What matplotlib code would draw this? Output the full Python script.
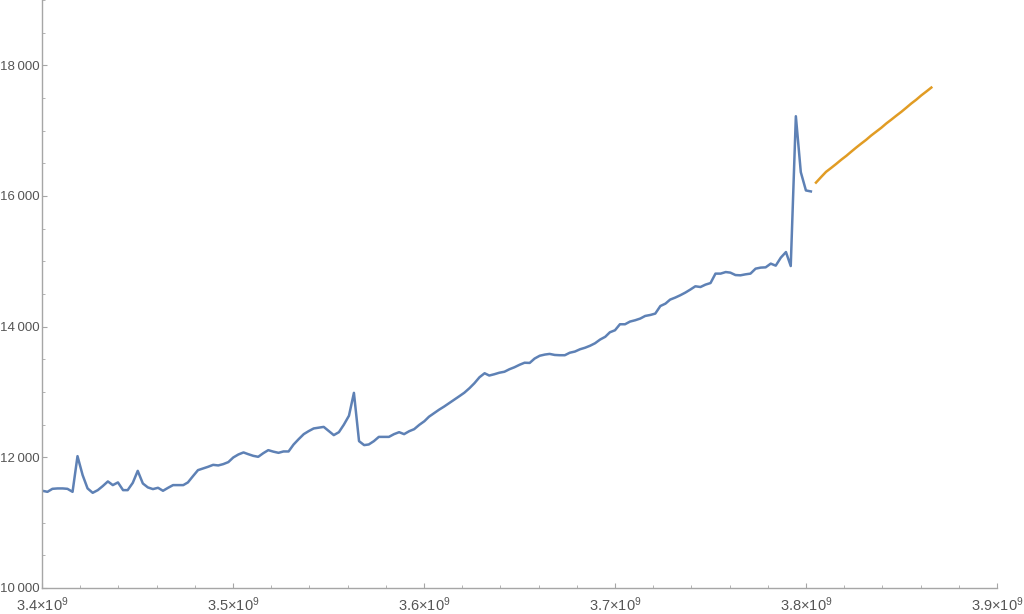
import numpy as np
import pandas as pd
import matplotlib
matplotlib.use('Agg')
import matplotlib.pyplot as plt
from matplotlib.ticker import MultipleLocator, FixedLocator

plt.rcParams['font.family'] = ['Liberation Sans', 'DejaVu Sans']
plt.rcParams['mathtext.default'] = 'regular'

# monthly values, Oct 2007 .. Jul 2020
blue_start = '2007-10-01'
blue_values = [
    11488, 11472, 11518, 11524, 11524, 11518, 11472, 12018, 11728, 11524,
    11457, 11498, 11560, 11631, 11575, 11616, 11498, 11498, 11610, 11793,
    11600, 11540, 11514, 11534, 11488, 11534, 11575, 11575, 11575, 11616,
    11713, 11804, 11830, 11855, 11885, 11876, 11896, 11927, 11998, 12044,
    12075, 12049, 12023, 12008, 12064, 12110, 12087, 12069, 12090, 12090,
    12195, 12278, 12355, 12400, 12442, 12454, 12466, 12405, 12340, 12385,
    12500, 12637, 12987, 12248, 12187, 12197, 12248, 12313, 12313, 12313,
    12355, 12385, 12355, 12400, 12431, 12497, 12553, 12622, 12676, 12729,
    12778, 12829, 12882, 12936, 12989, 13058, 13134, 13226, 13287, 13252,
    13272, 13295, 13310, 13348, 13379, 13417, 13448, 13445, 13512, 13555,
    13573, 13583, 13567, 13563, 13563, 13601, 13619, 13654, 13677, 13708,
    13746, 13803, 13845, 13914, 13945, 14037, 14037, 14078, 14098, 14124,
    14164, 14179, 14200, 14316, 14353, 14414, 14445, 14480, 14521, 14567,
    14618, 14607, 14643, 14668, 14812, 14812, 14836, 14827, 14790, 14786,
    14801, 14812, 14888, 14904, 14908, 14965, 14934, 15057, 15142, 14928,
    17221, 16365, 16085, 16070,
]

# forecast, Aug 2020 .. Jul 2022
orange_start = '2020-08-01'
orange_values = [
    16205, 16290, 16370, 16430, 16490, 16555, 16615, 16675, 16740, 16800,
    16860, 16925, 16985, 17045, 17110, 17170, 17230, 17290, 17355, 17415,
    17475, 17540, 17600, 17660,
]

x_ticks = [3.4e9, 3.5e9, 3.6e9, 3.7e9, 3.8e9, 3.9e9]
x_ticklabels = ['3.4×10$^{9}$', '3.5×10$^{9}$', '3.6×10$^{9}$',
                '3.7×10$^{9}$', '3.8×10$^{9}$', '3.9×10$^{9}$']
y_ticks = [10000, 12000, 14000, 16000, 18000]
y_ticklabels = ['10\u2009000', '12\u2009000', '14\u2009000', '16\u2009000', '18\u2009000']


def abs_time(start, n):
    """Seconds since 1900-01-01 for n month starts (like AbsoluteTime)."""
    dates = pd.date_range(start, periods=n, freq='MS')
    return (dates - pd.Timestamp('1900-01-01')).total_seconds().values


bx = abs_time(blue_start, len(blue_values))
ox_ = abs_time(orange_start, len(orange_values))

fig = plt.figure(figsize=(10.24, 6.14), dpi=100)
ax = fig.add_axes([42 / 1024, 26 / 614, 955 / 1024, 588 / 614])

ax.plot(bx, blue_values, color='#5E81B5', lw=1.8, solid_joinstyle='round')
ax.plot(ox_, orange_values, color='#E19C24', lw=1.8, solid_joinstyle='round')

ax.set_xlim(3.4e9, 3.9e9)
ax.set_ylim(10000, 19000)

ax.xaxis.set_major_locator(FixedLocator(x_ticks))
ax.set_xticklabels(x_ticklabels)
ax.xaxis.set_minor_locator(MultipleLocator(2e7))
ax.yaxis.set_major_locator(FixedLocator(y_ticks))
ax.set_yticklabels(y_ticklabels)
ax.yaxis.set_minor_locator(MultipleLocator(500))

for s in ['top', 'right']:
    ax.spines[s].set_visible(False)
for s in ['left', 'bottom']:
    ax.spines[s].set_color('#a6a6a6')
    ax.spines[s].set_linewidth(1.0)

ax.tick_params(which='both', direction='in', color='#a6a6a6', labelcolor='#555555')
ax.tick_params(which='major', length=3.5, width=0.8)
ax.tick_params(which='minor', length=2, width=0.6)
ax.tick_params(axis='y', which='major', pad=2, labelsize=9.5)
ax.tick_params(axis='x', which='major', pad=5, labelsize=10.5)

fig.savefig('out.png', dpi=100)
